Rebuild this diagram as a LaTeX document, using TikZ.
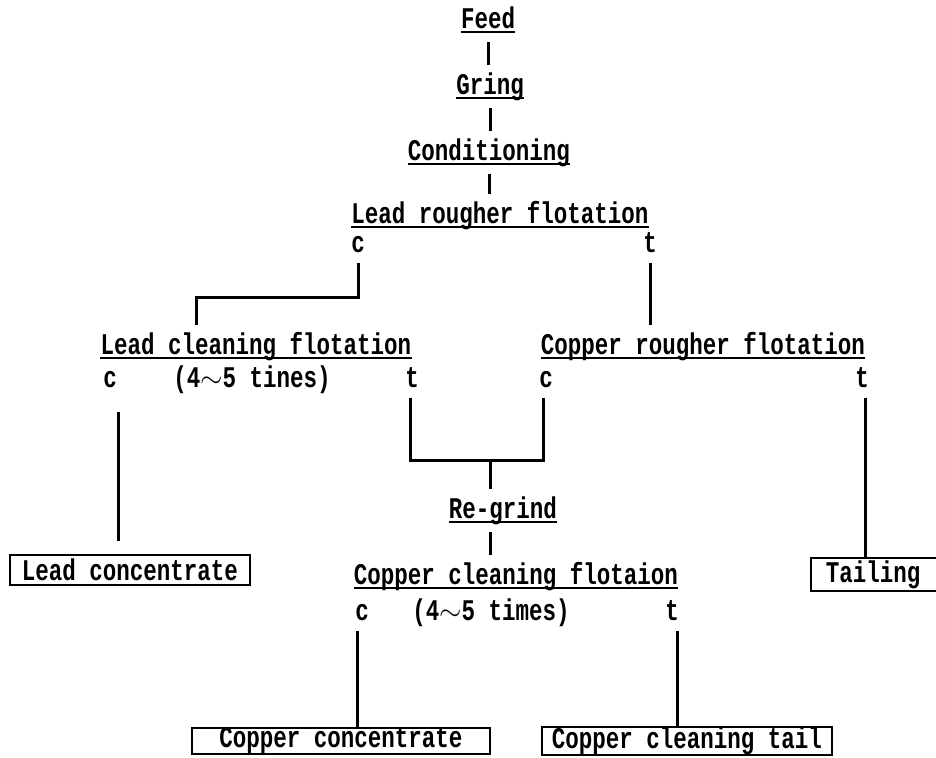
\documentclass[tikz,border=0pt]{standalone}
\usepackage{fontspec}
\newfontfamily\chartfont{Liberation Mono}[FakeStretch = 0.75]

\begin{document}
\begin{tikzpicture}[x = 0.5pt, y = -0.5pt,
	chart/.style = {font = \chartfont\bfseries\fontsize{15pt}{17pt}\selectfont, inner sep = 0pt},
	stage/.style = {chart, anchor = south, text depth = 1.5pt,
		append after command = {(\tikzlastnode.south west) edge [line width = 0.8pt] (\tikzlastnode.south east)}},
	tag/.style = {chart, anchor = base},
	product/.style = {chart, draw, line width = 0.9pt},
	flow/.style = {line width = 1.5pt, shorten < = 5pt, shorten > = 3.5pt}]

	\useasboundingbox (0, 0) rectangle (936, 757);
	\clip (0, 0) rectangle (936, 757);

	\node [stage] (feed) at (488, 32) {Feed};
	\node [stage] (gring) at (490, 98) {Gring};
	\node [stage] (cond) at (489, 164) {Conditioning};
	\node [stage] (lrf) at (500, 227) {Lead rougher flotation};
	\node [tag] (lrc) at (358, 252) {c};
	\node [tag] (lrt) at (650, 252) {t};

	\node [stage] (lcf) at (256, 358) {Lead cleaning flotation};
	\node [tag] (lcc) at (110, 387) {c};
	\node [tag] (lcn) at (252, 387) {(4$\sim$5 tines)};
	\node [tag] (lct) at (412, 387) {t};

	\node [stage] (crf) at (703, 358) {Copper rougher flotation};
	\node [tag] (crc) at (546, 387) {c};
	\node [tag] (crt) at (862, 387) {t};

	\node [stage] (regrind) at (503, 522) {Re-grind};
	\node [stage] (ccf) at (516, 588) {Copper cleaning flotaion};
	\node [tag] (ccc) at (362, 620) {c};
	\node [tag] (ccn) at (491, 620) {(4$\sim$5 times)};
	\node [tag] (cct) at (672, 620) {t};

	\node [product, minimum width = 120pt, minimum height = 15pt] (lconc) at (130, 570) {Lead concentrate};
	\node [product, anchor = west, text width = 65pt, align = left, inner xsep = 7.5pt, minimum height = 16.5pt] (tail) at (810, 574.5) {Tailing};
	\node [product, minimum width = 149pt, minimum height = 13pt] (cconc) at (341, 741) {Copper concentrate};
	\node [product, minimum width = 145pt, minimum height = 13pt] (cctail) at (687, 741) {Copper cleaning tail};

	\draw [flow] (feed.south) -- (feed.south |- gring.north);
	\draw [flow] (gring.south) -- (gring.south |- cond.north);
	\draw [flow] (cond.south) -- (cond.south |- lrf.north);

	\coordinate (split) at (196, 297);
	\draw [flow] (lrc.south) |- (split) -- (split |- lcf.north);
	\draw [flow] (lrt.south) -- (lrt.south |- crf.north);

	\coordinate (merge) at (490, 460);
	\draw [flow, shorten > = 5pt] ([xshift = -1pt] lct.south) |- (merge) -| ([xshift = -1.5pt] crc.south);
	\draw [flow, shorten < = 0pt] (merge) -- (merge |- regrind.north);
	\draw [flow] (merge |- regrind.south) -- (merge |- ccf.north);

	\draw [flow, shorten < = 12pt, shorten > = 6.5pt] ([xshift = 4pt] lcc.south) -- ([xshift = 4pt] lcc.south |- lconc.north);
	\draw [flow, shorten > = 0pt] ([xshift = 1.5pt] crt.south) -- ([xshift = 1.5pt] crt.south |- tail.north);
	\draw [flow, shorten > = 0pt] ([xshift = -2.5pt] ccc.south) -- ([xshift = -2.5pt] ccc.south |- cconc.north);
	\draw [flow, shorten > = 0pt] ([xshift = 2.5pt] cct.south) -- ([xshift = 2.5pt] cct.south |- cctail.north);

\end{tikzpicture}
\end{document}
